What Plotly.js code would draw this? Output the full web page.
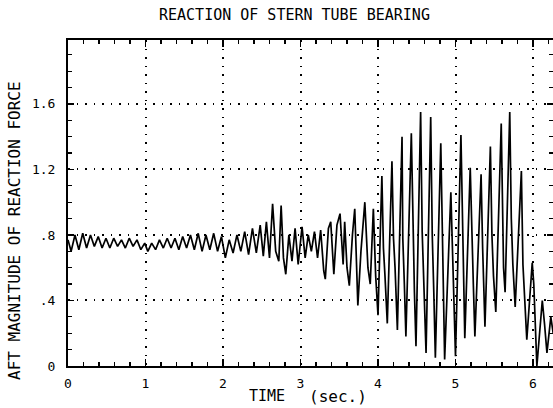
<!DOCTYPE html>
<html>
<head>
<meta charset="utf-8">
<script src="https://cdn.plot.ly/plotly-3.0.1.min.js"></script>
<style>html,body{margin:0;padding:0;background:#fff;}#chart{width:553px;height:408px;}</style>
</head>
<body>
<div id="chart"></div>
<script>
// Time (sec.)
const timeSec = [
0.00,0.04,0.09,0.14,0.19,0.24,0.29,0.34,0.39,0.44,0.49,0.54,0.59,0.64,0.69,0.74,0.79,0.84,0.89,0.94,
0.99,1.03,1.08,1.13,1.18,1.23,1.28,1.33,1.38,1.43,1.48,1.53,1.58,1.63,1.68,1.73,1.78,1.83,1.88,1.93,
1.98,2.03,2.08,2.13,2.18,2.23,2.28,2.33,2.38,2.43,2.48,2.52,2.56,2.60,2.64,2.68,2.72,2.75,2.78,2.81,
2.85,2.89,2.93,2.97,3.02,3.06,3.10,3.14,3.18,3.22,3.26,3.30,3.32,3.36,3.39,3.43,3.47,3.51,3.55,3.57,
3.60,3.63,3.67,3.70,3.74,3.78,3.83,3.87,3.90,3.94,3.97,
4.00,4.05,4.07,4.09,4.12,4.18,4.20,4.22,4.25,4.31,4.32,4.34,4.36,4.43,4.45,4.47,4.49,4.55,4.57,4.59,
4.62,4.68,4.70,4.72,4.74,4.81,4.83,4.84,4.86,4.94,4.96,4.98,5.00,5.07,5.09,5.10,5.12,5.19,5.21,5.23,
5.25,5.33,5.35,5.36,5.38,5.45,5.47,5.49,5.52,5.59,5.61,5.62,5.64,5.70,5.72,5.74,5.77,5.85,5.87,5.89,
5.92,5.99,6.01,6.05,6.12,6.15,6.18,6.23,6.26
];
// Aft magnitude of reaction force
const reactionForce = [
0.77,0.70,0.80,0.71,0.81,0.72,0.80,0.73,0.79,0.72,0.78,0.72,0.78,0.73,0.77,0.72,0.78,0.73,0.77,0.71,
0.75,0.70,0.75,0.71,0.77,0.72,0.78,0.72,0.78,0.71,0.79,0.72,0.80,0.71,0.81,0.70,0.80,0.71,0.81,0.70,
0.79,0.66,0.77,0.69,0.80,0.70,0.82,0.68,0.84,0.69,0.86,0.67,0.88,0.66,0.99,0.70,0.64,0.98,0.66,0.56,
0.80,0.64,0.84,0.62,0.85,0.66,0.80,0.70,0.82,0.66,0.83,0.58,0.53,0.84,0.88,0.56,0.86,0.93,0.62,0.88,
0.60,0.49,0.80,0.96,0.37,0.70,1.00,0.60,0.50,0.96,0.55,
0.31,1.16,0.72,0.55,0.26,1.25,0.78,0.60,0.22,1.40,0.78,0.50,0.18,1.42,0.80,0.45,0.12,1.55,0.82,0.55,
0.08,1.52,0.80,0.45,0.05,1.36,0.78,0.50,0.04,1.06,0.70,0.40,0.06,1.41,0.82,0.50,0.17,1.21,0.78,0.50,
0.18,1.17,0.72,0.50,0.24,1.34,0.80,0.55,0.33,1.48,0.85,0.60,0.45,1.55,0.90,0.62,0.36,1.19,0.62,0.45,
0.16,0.63,0.50,0.00,0.40,0.25,0.08,0.30,0.20
];
const xTickVals = [0,1,2,3,4,5,6];
const xTickText = ["0","1","2","3","4","5","6"];
const yTickVals = [0,0.4,0.8,1.2,1.6];
const yTickText = ["0",".4",".8","1.2","1.6"];

const mono = '"DejaVu Sans Mono", "Liberation Mono", monospace';

const trace = {
  x: timeSec, y: reactionForce, type: 'scatter', mode: 'lines',
  line: {color: '#000', width: 1.7}, hoverinfo: 'skip'
};

const layout = {
  width: 553, height: 408,
  margin: {l: 68, r: 0, t: 40, b: 42},
  paper_bgcolor: '#fff', plot_bgcolor: '#fff',
  showlegend: false,
  font: {family: mono, size: 13, color: '#000'},
  xaxis: {
    range: [0, 6.258], tickvals: xTickVals, ticktext: xTickText,
    ticks: 'inside', ticklen: 7, tickwidth: 1.5, tickcolor: '#000',
    showline: true, linecolor: '#000', linewidth: 2, mirror: 'ticks',
    showgrid: true, gridcolor: '#000', gridwidth: 2, griddash: '1.5px,7px',
    zeroline: false, ticklabelstandoff: 4,
    minor: {dtick: 0.2, tick0: 0, ticks: 'inside', ticklen: 4, tickcolor: '#000', tickwidth: 1.2, showgrid: false},
    tickfont: {family: mono, size: 13, color: '#000'}
  },
  yaxis: {
    range: [0, 1.99], tickvals: yTickVals, ticktext: yTickText,
    ticks: 'inside', ticklen: 6, tickwidth: 1.5, tickcolor: '#000',
    showline: true, linecolor: '#000', linewidth: 2, mirror: 'ticks',
    showgrid: true, gridcolor: '#000', gridwidth: 2, griddash: '1.5px,7px',
    zeroline: false, ticklabelstandoff: 8,
    minor: {dtick: 0.1, tick0: 0, ticks: 'inside', ticklen: 4, tickcolor: '#000', tickwidth: 1.2, showgrid: false},
    tickfont: {family: mono, size: 13, color: '#000'}
  },
  annotations: [
    {text: 'REACTION OF STERN TUBE BEARING', xref: 'paper', yref: 'paper',
     x: (294-68)/485, y: 1 + (40-15)/326, xanchor: 'center', yanchor: 'middle',
     showarrow: false, font: {family: mono, size: 15, color: '#000'}},
    {text: 'AFT MAGNITUDE OF REACTION FORCE', xref: 'paper', yref: 'paper',
     x: (15-68)/485, y: (366-231)/326, xanchor: 'center', yanchor: 'middle', textangle: -90,
     showarrow: false, font: {family: mono, size: 16, color: '#000'}},
    {text: 'TIME', xref: 'paper', yref: 'paper',
     x: (287-68)/485, y: -(396-366)/326, xanchor: 'right', yanchor: 'middle',
     showarrow: false, font: {family: mono, size: 15, color: '#000'}},
    {text: '(sec.)', xref: 'paper', yref: 'paper',
     x: (307-68)/485, y: -(396-366)/326, xanchor: 'left', yanchor: 'middle',
     showarrow: false, font: {family: mono, size: 16, color: '#000'}}
  ]
};

Plotly.newPlot('chart', [trace], layout, {staticPlot: true, displayModeBar: false});
</script>
</body>
</html>
